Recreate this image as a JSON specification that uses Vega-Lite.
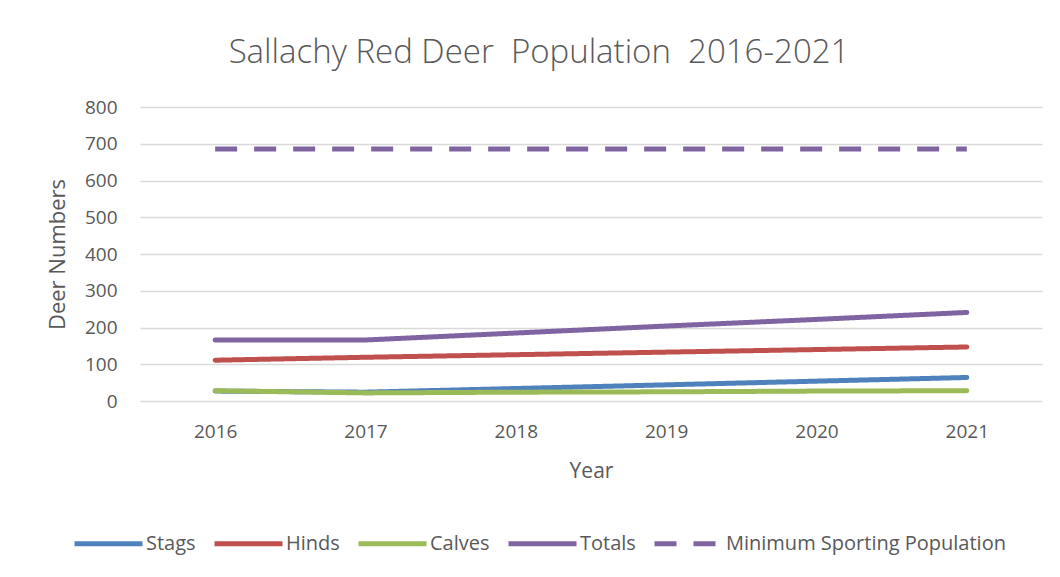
{
  "$schema": "https://vega.github.io/schema/vega-lite/v6.json",
  "width": 902,
  "height": 294,
  "autosize": {"type": "none"},
  "padding": {"left": 140, "top": 107, "right": 18, "bottom": 176},
  "background": "white",
  "config": {
    "font": "Open Sans",
    "view": {"stroke": null},
    "axis": {"labelColor": "#595959", "titleColor": "#595959", "titleFontWeight": "normal", "ticks": false, "domain": false}
  },
  "title": {
    "text": "Sallachy Red Deer\u00a0 Population\u00a0 2016-2021",
    "fontSize": 33,
    "font": "Open Sans",
    "fontWeight": 300,
    "color": "#595959",
    "anchor": "middle",
    "dx": -52,
    "offset": 28
  },
  "data": {
    "values": [
      {"Year": "2016", "Series": "Stags", "Deer": 27},
      {"Year": "2017", "Series": "Stags", "Deer": 24},
      {"Year": "2018", "Series": "Stags", "Deer": 34},
      {"Year": "2019", "Series": "Stags", "Deer": 44},
      {"Year": "2020", "Series": "Stags", "Deer": 54},
      {"Year": "2021", "Series": "Stags", "Deer": 64},
      {"Year": "2016", "Series": "Hinds", "Deer": 111},
      {"Year": "2017", "Series": "Hinds", "Deer": 119},
      {"Year": "2018", "Series": "Hinds", "Deer": 126},
      {"Year": "2019", "Series": "Hinds", "Deer": 133},
      {"Year": "2020", "Series": "Hinds", "Deer": 140},
      {"Year": "2021", "Series": "Hinds", "Deer": 147},
      {"Year": "2016", "Series": "Calves", "Deer": 28},
      {"Year": "2017", "Series": "Calves", "Deer": 22},
      {"Year": "2018", "Series": "Calves", "Deer": 24},
      {"Year": "2019", "Series": "Calves", "Deer": 25},
      {"Year": "2020", "Series": "Calves", "Deer": 27},
      {"Year": "2021", "Series": "Calves", "Deer": 28},
      {"Year": "2016", "Series": "Totals", "Deer": 166},
      {"Year": "2017", "Series": "Totals", "Deer": 166},
      {"Year": "2018", "Series": "Totals", "Deer": 185},
      {"Year": "2019", "Series": "Totals", "Deer": 204},
      {"Year": "2020", "Series": "Totals", "Deer": 222},
      {"Year": "2021", "Series": "Totals", "Deer": 241},
      {"Year": "2016", "Series": "Minimum Sporting Population", "Deer": 686},
      {"Year": "2017", "Series": "Minimum Sporting Population", "Deer": 686},
      {"Year": "2018", "Series": "Minimum Sporting Population", "Deer": 686},
      {"Year": "2019", "Series": "Minimum Sporting Population", "Deer": 686},
      {"Year": "2020", "Series": "Minimum Sporting Population", "Deer": 686},
      {"Year": "2021", "Series": "Minimum Sporting Population", "Deer": 686}
    ]
  },
  "encoding": {
    "x": {
      "field": "Year",
      "type": "ordinal",
      "scale": {"type": "point", "padding": 0.5},
      "axis": {"labelAngle": 0, "labelFontSize": 19, "labelPadding": 21, "title": "Year", "titleFontSize": 21, "titlePadding": 19, "grid": false}
    },
    "y": {
      "field": "Deer",
      "type": "quantitative",
      "scale": {"domain": [0, 800], "nice": false},
      "axis": {"values": [0, 100, 200, 300, 400, 500, 600, 700, 800], "labelFontSize": 19, "labelPadding": 23, "title": "Deer Numbers", "titleFontSize": 22, "titlePadding": 15, "grid": true, "gridColor": "#d9d9d9", "gridWidth": 1.5}
    },
    "color": {
      "field": "Series",
      "type": "nominal",
      "scale": {
        "domain": ["Stags", "Hinds", "Calves", "Totals", "Minimum Sporting Population"],
        "range": ["#4f81bd", "#c0504d", "#9bbb59", "#8064a2", "#8064a2"]
      },
      "legend": {
        "orient": "none",
        "legendX": -68,
        "legendY": 400,
        "direction": "horizontal",
        "title": null,
        "symbolType": "stroke",
        "symbolSize": 4624,
        "symbolStrokeWidth": 5,
        "labelFontSize": 20,
        "labelColor": "#595959",
        "labelOffset": 1,
        "columnPadding": 8,
        "labelLimit": 400
      }
    },
    "strokeDash": {
      "field": "Series",
      "type": "nominal",
      "scale": {
        "domain": ["Stags", "Hinds", "Calves", "Totals", "Minimum Sporting Population"],
        "range": [[1, 0], [1, 0], [1, 0], [1, 0], [22, 17]]
      }
    }
  },
  "layer": [
    {
      "transform": [{"filter": "datum.Series !== 'Minimum Sporting Population'"}],
      "mark": {"type": "line", "strokeWidth": 5, "strokeCap": "round", "strokeJoin": "round"}
    },
    {
      "transform": [{"filter": "datum.Series === 'Minimum Sporting Population'"}],
      "mark": {"type": "line", "strokeWidth": 5, "strokeCap": "butt"}
    }
  ]
}
